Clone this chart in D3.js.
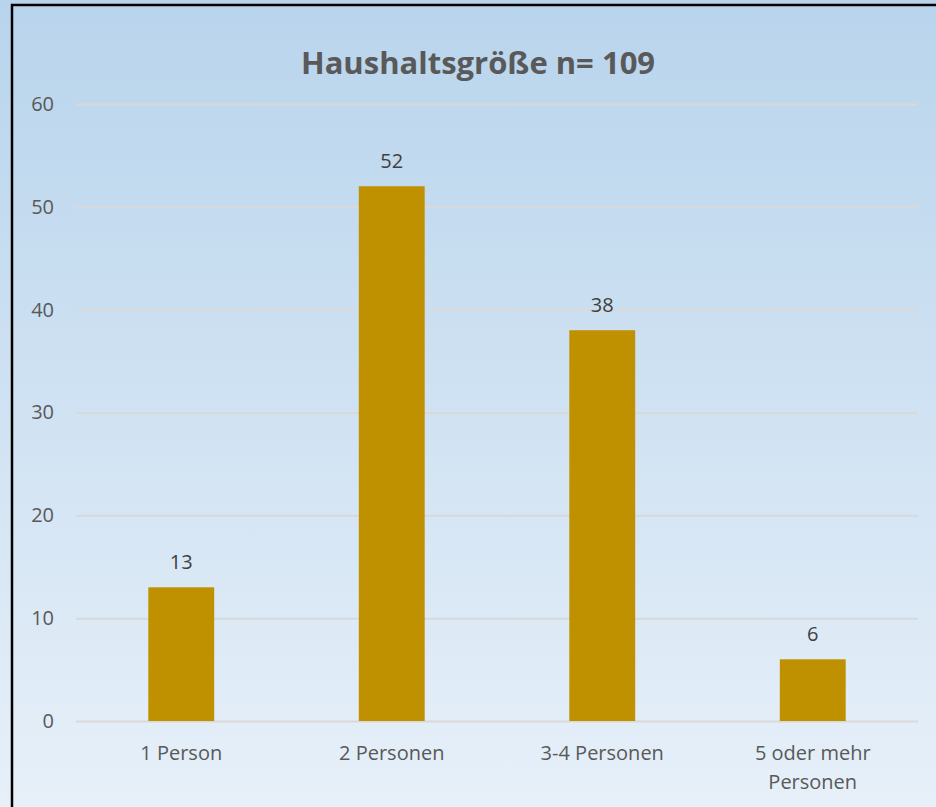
<!DOCTYPE html>
<html>
<head>
<meta charset="utf-8">
<script src="https://cdn.jsdelivr.net/npm/d3@7"></script>
<style>
  body { margin: 0; background: #e6eff9; }
  svg { display: block; font-family: "Open Sans", sans-serif; }
</style>
</head>
<body>
<svg></svg>
<script>
// data
var categories = ["1 Person", "2 Personen", "3-4 Personen", "5 oder mehr Personen"];
var values = [13, 52, 38, 6];
var yTicks = [0, 10, 20, 30, 40, 50, 60];
var title = "Haushaltsgröße n= 109";

var svgWidth = 936, svgHeight = 807;
var margin = {top: 104, right: 18, bottom: 86, left: 76};
var plotW = svgWidth - margin.left - margin.right;
var plotH = svgHeight - margin.top - margin.bottom;

var svg = d3.select("svg")
    .attr("width", svgWidth)
    .attr("height", svgHeight);

// background gradient
var grad = svg.append("defs").append("linearGradient")
    .attr("id", "bg")
    .attr("x1", 0).attr("y1", 0).attr("x2", 0).attr("y2", 1);
grad.append("stop").attr("offset", "0%").attr("stop-color", "#b8d4ec");
grad.append("stop").attr("offset", "100%").attr("stop-color", "#e7f0f9");

svg.append("rect")
    .attr("width", svgWidth).attr("height", svgHeight)
    .attr("fill", "url(#bg)");

// border (only top and left are inside the picture)
svg.append("path")
    .attr("d", "M12,807 L12,5 L936,5")
    .attr("fill", "none")
    .attr("stroke", "#000")
    .attr("stroke-width", 2.5);

var g = svg.append("g")
    .attr("transform", "translate(" + margin.left + "," + margin.top + ")");

var xScale = d3.scaleBand()
    .domain(categories)
    .range([0, plotW])
    .paddingInner(0.687)
    .paddingOuter(0.3435);

var yScale = d3.scaleLinear()
    .domain([0, 60])
    .range([plotH, 0]);

// gridlines
var y_axis = d3.axisLeft(yScale)
    .tickValues(yTicks)
    .tickSize(-plotW)
    .tickPadding(22);

var yG = g.append("g").call(y_axis);
yG.select(".domain").remove();
yG.selectAll(".tick line")
    .attr("stroke", "#d9d9d9")
    .attr("stroke-width", 2);
yG.selectAll(".tick text")
    .attr("fill", "#595959")
    .style("font-size", "20px")
    .style("font-family", "'Open Sans', sans-serif");

// bars
g.selectAll("rect.bar")
    .data(values)
    .enter()
    .append("rect")
    .attr("class", "bar")
    .attr("x", function(d, i) { return xScale(categories[i]); })
    .attr("y", function(d) { return yScale(d); })
    .attr("width", xScale.bandwidth())
    .attr("height", function(d) { return plotH - yScale(d); })
    .attr("fill", "#bf9000");

// value labels
g.selectAll("text.val")
    .data(values)
    .enter()
    .append("text")
    .attr("class", "val")
    .attr("x", function(d, i) { return xScale(categories[i]) + xScale.bandwidth() / 2; })
    .attr("y", function(d) { return yScale(d) - 18; })
    .attr("text-anchor", "middle")
    .attr("fill", "#404040")
    .style("font-size", "20px")
    .text(function(d) { return d; });

// category labels, wrapped like the original
var wrapped = {"5 oder mehr Personen": ["5 oder mehr", "Personen"]};
var xLabels = g.append("g")
    .attr("transform", "translate(0," + plotH + ")");
categories.forEach(function(c) {
    var lines = wrapped[c] || [c];
    var t = xLabels.append("text")
        .attr("text-anchor", "middle")
        .attr("fill", "#595959")
        .style("font-size", "20px");
    lines.forEach(function(l, j) {
        t.append("tspan")
            .attr("x", xScale(c) + xScale.bandwidth() / 2)
            .attr("y", 39 + j * 29)
            .text(l);
    });
});

// title
svg.append("text")
    .attr("x", 478)
    .attr("y", 74)
    .attr("text-anchor", "middle")
    .attr("fill", "#595959")
    .style("font-size", "31px")
    .style("font-weight", "bold")
    .text(title);
</script>
</body>
</html>
